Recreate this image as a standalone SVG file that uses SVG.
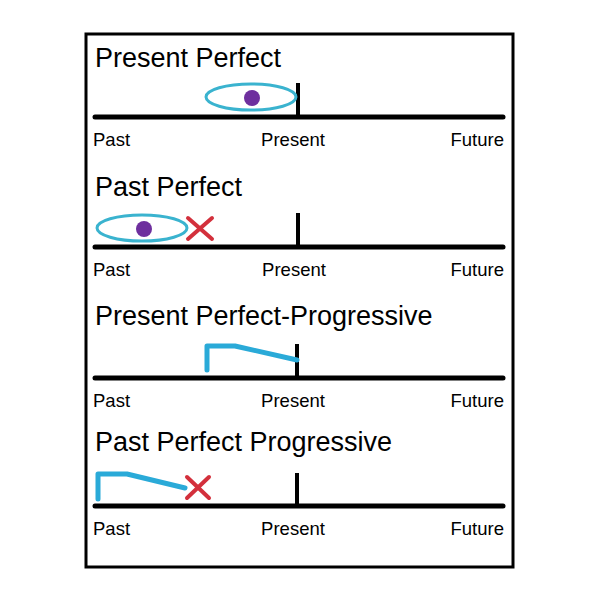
<svg xmlns="http://www.w3.org/2000/svg" width="600" height="600" viewBox="0 0 600 600">
<style>
.title{font-family:"Liberation Sans",Arial,sans-serif;font-size:27px;fill:#000}
.lbl{font-family:"Liberation Sans",Arial,sans-serif;font-size:18.5px;fill:#000}
.axis{stroke:#000;stroke-width:5;stroke-linecap:round;fill:none}
.tick{stroke:#000;stroke-width:4;fill:none}
.ring{stroke:#3ab3cf;stroke-width:3;fill:none}
.dot{fill:#6e2f9e}
.prog{stroke:#2aaad8;stroke-width:5;fill:none;stroke-linecap:round;stroke-linejoin:round}
.cross{stroke:#d3303c;stroke-width:4;stroke-linecap:round}
</style>
<rect width="600" height="600" fill="#fff"/>
<rect x="86" y="34" width="427" height="533" fill="none" stroke="#000" stroke-width="3"/>
<g id="present-perfect">
<text class="title" x="95" y="67">Present Perfect</text>
<line class="axis" x1="95" y1="117" x2="503" y2="117"/>
<line class="tick" x1="298" y1="83" x2="298" y2="117"/>
<ellipse class="ring" cx="251" cy="97" rx="45" ry="13"/>
<circle class="dot" cx="252" cy="98" r="8"/>
<text class="lbl" x="93" y="146">Past</text>
<text class="lbl" x="293" y="146" text-anchor="middle">Present</text>
<text class="lbl" x="504" y="146" text-anchor="end">Future</text>
</g>
<g id="past-perfect">
<text class="title" x="95" y="196">Past Perfect</text>
<line class="axis" x1="95" y1="247" x2="503" y2="247"/>
<line class="tick" x1="298" y1="213" x2="298" y2="247"/>
<ellipse class="ring" cx="142" cy="228" rx="45" ry="13"/>
<circle class="dot" cx="144" cy="229" r="8"/>
<line class="cross" x1="188" y1="218" x2="212" y2="239"/>
<line class="cross" x1="212" y1="218" x2="188" y2="239"/>
<text class="lbl" x="93" y="276">Past</text>
<text class="lbl" x="294" y="276" text-anchor="middle">Present</text>
<text class="lbl" x="504" y="276" text-anchor="end">Future</text>
</g>
<g id="present-perfect-progressive">
<text class="title" x="95" y="325">Present Perfect-Progressive</text>
<line class="axis" x1="95" y1="378" x2="503" y2="378"/>
<line class="tick" x1="297" y1="344" x2="297" y2="378"/>
<path class="prog" d="M207 370 L207 346 L235 346 L297 360"/>
<text class="lbl" x="93" y="407">Past</text>
<text class="lbl" x="293" y="407" text-anchor="middle">Present</text>
<text class="lbl" x="504" y="407" text-anchor="end">Future</text>
</g>
<g id="past-perfect-progressive">
<text class="title" x="95" y="451">Past Perfect Progressive</text>
<line class="axis" x1="95" y1="506" x2="503" y2="506"/>
<line class="tick" x1="297" y1="473" x2="297" y2="506"/>
<path class="prog" d="M98 499 L98 474 L127 474 L185 488"/>
<line class="cross" x1="187" y1="477" x2="209" y2="498"/>
<line class="cross" x1="209" y1="477" x2="187" y2="498"/>
<text class="lbl" x="93" y="535">Past</text>
<text class="lbl" x="293" y="535" text-anchor="middle">Present</text>
<text class="lbl" x="504" y="535" text-anchor="end">Future</text>
</g>
</svg>
